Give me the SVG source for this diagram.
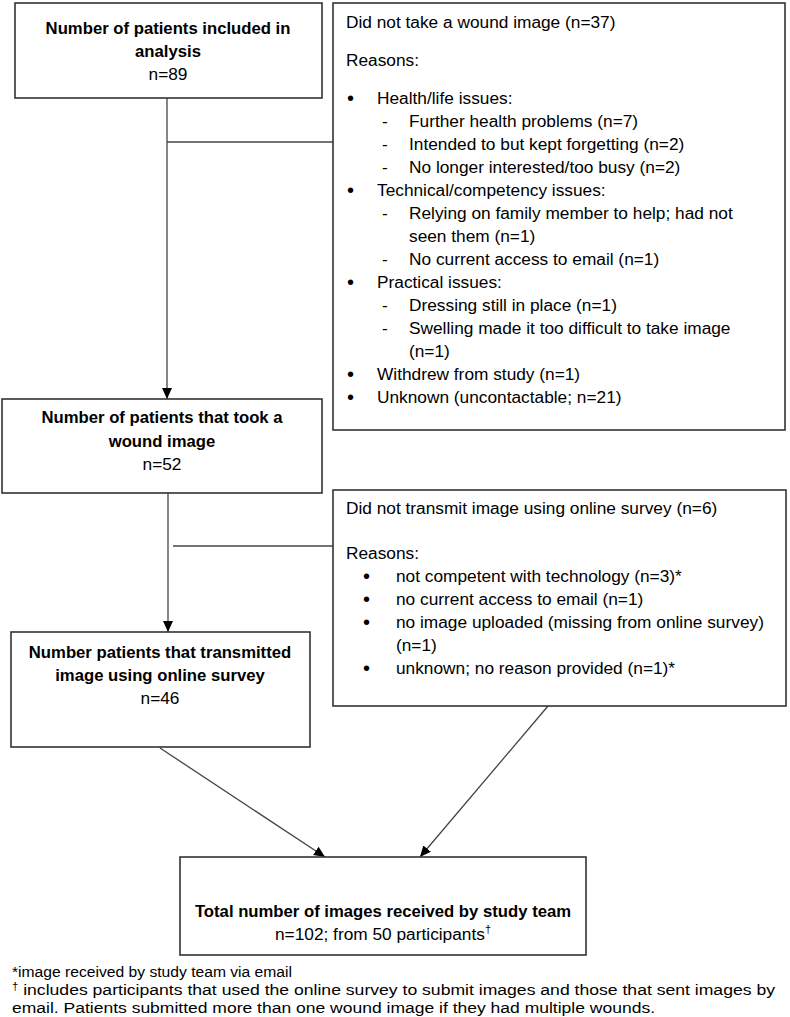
<svg xmlns="http://www.w3.org/2000/svg" width="790" height="1017" viewBox="0 0 790 1017">
<defs>
<marker id="ah" markerUnits="userSpaceOnUse" markerWidth="12" markerHeight="12" refX="11" refY="5" orient="auto">
<path d="M0,0 L11,5 L0,10 z" fill="#000"/>
</marker>
<style>
.box{fill:#fff;stroke:#333;stroke-width:1.6}
.t{font-family:"Liberation Sans",Arial,sans-serif;font-size:17.3px;fill:#000}
.b{font-weight:bold;font-size:16.7px}
.c{text-anchor:middle}
.bu{font-size:20px}
.ln{stroke:#444;stroke-width:1.3;fill:none}
.fn{font-family:"Liberation Sans",Arial,sans-serif;font-size:15.5px;fill:#000}
</style>
</defs>
<rect width="790" height="1017" fill="#fff"/>

<g id="connectors">
<line class="ln" x1="167" y1="98" x2="167" y2="399" marker-end="url(#ah)"/>
<line class="ln" x1="167" y1="142" x2="333" y2="142"/>
<line class="ln" x1="168" y1="493" x2="168" y2="632" marker-end="url(#ah)"/>
<line class="ln" x1="173" y1="546" x2="333" y2="546"/>
<line class="ln" x1="160" y1="748" x2="325" y2="857" marker-end="url(#ah)"/>
<line class="ln" x1="548" y1="706" x2="420" y2="857" marker-end="url(#ah)"/>
</g>

<g id="n1">
<rect class="box" x="15" y="3" width="307" height="95"/>
<text class="t b c" x="168" y="34">Number of patients included in</text>
<text class="t b c" x="168" y="57">analysis</text>
<text class="t c" x="168" y="80">n=89</text>
</g>

<g id="ex1">
<rect class="box" x="333" y="3" width="452" height="427"/>
<text class="t" x="346" y="28">Did not take a wound image (n=37)</text>
<text class="t" x="346" y="66">Reasons:</text>
<g class="t">
<text class="bu" x="347" y="105">•</text><text x="377" y="104">Health/life issues:</text>
<text x="382" y="127">-</text><text x="409" y="127">Further health problems (n=7)</text>
<text x="382" y="150">-</text><text x="409" y="150">Intended to but kept forgetting (n=2)</text>
<text x="382" y="173">-</text><text x="409" y="173">No longer interested/too busy (n=2)</text>
<text class="bu" x="347" y="197">•</text><text x="377" y="196">Technical/competency issues:</text>
<text x="382" y="219">-</text><text x="409" y="219">Relying on family member to help; had not</text>
<text x="409" y="242">seen them (n=1)</text>
<text x="382" y="265">-</text><text x="409" y="265">No current access to email (n=1)</text>
<text class="bu" x="347" y="289">•</text><text x="377" y="288">Practical issues:</text>
<text x="382" y="311">-</text><text x="409" y="311">Dressing still in place (n=1)</text>
<text x="382" y="334">-</text><text x="409" y="334">Swelling made it too difficult to take image</text>
<text x="409" y="357">(n=1)</text>
<text class="bu" x="347" y="381">•</text><text x="377" y="380">Withdrew from study (n=1)</text>
<text class="bu" x="347" y="404">•</text><text x="377" y="403">Unknown (uncontactable; n=21)</text>
</g>
</g>

<g id="n2">
<rect class="box" x="2" y="399" width="320" height="94"/>
<text class="t b c" x="162" y="423">Number of patients that took a</text>
<text class="t b c" x="162" y="447">wound image</text>
<text class="t c" x="162" y="470">n=52</text>
</g>

<g id="ex2">
<rect class="box" x="333" y="490" width="453" height="216"/>
<text class="t" x="346" y="514">Did not transmit image using online survey (n=6)</text>
<text class="t" x="346" y="559">Reasons:</text>
<g class="t">
<text class="bu" x="363" y="583">•</text><text x="396" y="582">not competent with technology (n=3)*</text>
<text class="bu" x="363" y="606">•</text><text x="396" y="605">no current access to email (n=1)</text>
<text class="bu" x="363" y="629">•</text><text x="396" y="628">no image uploaded (missing from online survey)</text>
<text x="396" y="651">(n=1)</text>
<text class="bu" x="363" y="675">•</text><text x="396" y="674">unknown; no reason provided (n=1)*</text>
</g>
</g>

<g id="n3">
<rect class="box" x="11" y="632" width="299" height="115"/>
<text class="t b c" x="160" y="658">Number patients that transmitted</text>
<text class="t b c" x="160" y="681">image using online survey</text>
<text class="t c" x="160" y="704">n=46</text>
</g>

<g id="n4">
<rect class="box" x="180" y="857" width="406" height="98"/>
<text class="t b c" x="383" y="917">Total number of images received by study team</text>
<text class="t c" x="383" y="940">n=102; from 50 participants<tspan font-size="11" dy="-7">†</tspan></text>
</g>

<g id="footnotes">
<text class="fn" x="12" y="977" textLength="280" lengthAdjust="spacingAndGlyphs">*image received by study team via email</text>
<text class="fn" x="12" y="995" textLength="763" lengthAdjust="spacingAndGlyphs"><tspan font-size="10" dy="-5">†</tspan><tspan dy="5"> includes participants that used the online survey to submit images and those that sent images by</tspan></text>
<text class="fn" x="12" y="1013" textLength="643" lengthAdjust="spacingAndGlyphs">email. Patients submitted more than one wound image if they had multiple wounds.</text>
</g>
</svg>
